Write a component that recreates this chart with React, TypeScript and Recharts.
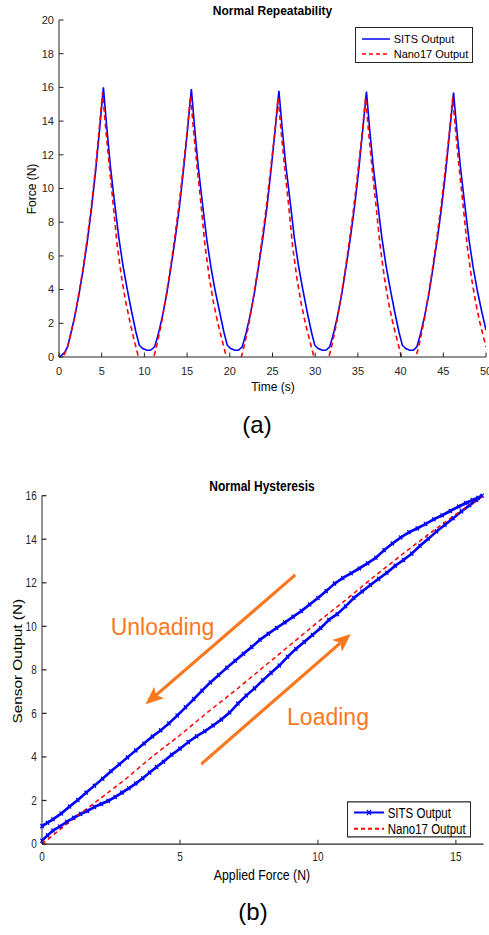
import React from "react";
import { LineChart, Line, XAxis, YAxis, Legend, ReferenceLine } from "recharts";

const FONT = '"Liberation Sans", Arial, Helvetica, sans-serif';
const INK = "#262626";
const BLUE = "#0000FF";
const RED = "#FF0000";
const ORANGE = "#F9781E";
const STRETCH = 1.25; // panel (b) is stretched vertically in the figure

// ---- (a) Normal Repeatability ----
const sitsTime = [
  0, 0.3, 0.7, 1.0, 1.3, 1.8, 2.3, 2.8, 3.3, 3.8, 4.3, 4.75, 5.2,
  5.6, 6.0, 6.5, 7.0, 7.5, 8.0, 8.5, 9.0, 9.4, 9.8, 10.3, 10.7,
  11.2, 11.6, 12.1, 12.6, 13.1, 13.6, 14.1, 14.6, 15.05, 15.5,
  15.9, 16.3, 16.8, 17.3, 17.8, 18.3, 18.8, 19.3, 19.7, 20.1, 20.6, 21.0,
  21.45, 21.85, 22.35, 22.85, 23.35, 23.85, 24.35, 24.85, 25.3, 25.75,
  26.15, 26.55, 27.05, 27.55, 28.05, 28.55, 29.05, 29.55, 29.95, 30.35, 30.85, 31.25,
  31.7, 32.1, 32.6, 33.1, 33.6, 34.1, 34.6, 35.1, 35.55, 36.0,
  36.4, 36.8, 37.3, 37.8, 38.3, 38.8, 39.3, 39.8, 40.2, 40.6, 41.1, 41.5,
  41.9, 42.3, 42.8, 43.3, 43.8, 44.3, 44.8, 45.3, 45.75, 46.2,
  46.6, 47.0, 47.5, 48.0, 48.5, 49.0, 49.5, 50.0,
];
const sitsForce = [
  0, 0.1, 0.3, 0.6, 1.2, 2.3, 3.6, 5.1, 6.8, 8.8, 11.1, 13.5, 16.0,
  13.6, 11.4, 9.2, 7.1, 5.4, 4.0, 2.7, 1.5, 0.7, 0.5, 0.4, 0.4,
  0.6, 1.3, 2.4, 3.7, 5.3, 7.0, 8.9, 11.2, 13.5, 15.9,
  13.5, 11.3, 9.1, 7.0, 5.3, 3.9, 2.7, 1.5, 0.7, 0.5, 0.4, 0.4,
  0.6, 1.3, 2.4, 3.7, 5.3, 7.0, 8.9, 11.2, 13.4, 15.8,
  13.5, 11.4, 9.3, 7.1, 5.4, 4.0, 2.7, 1.5, 0.7, 0.5, 0.4, 0.4,
  0.6, 1.3, 2.4, 3.7, 5.3, 7.0, 8.9, 11.1, 13.4, 15.75,
  13.4, 11.3, 9.2, 7.1, 5.4, 4.0, 2.7, 1.5, 0.7, 0.5, 0.4, 0.4,
  0.6, 1.3, 2.4, 3.7, 5.3, 7.0, 8.9, 11.1, 13.4, 15.7,
  13.4, 11.3, 9.1, 7.0, 5.3, 3.9, 2.7, 1.6,
];
const nanoTime = [
  0, 0.5, 1.0, 1.3, 1.8, 2.3, 2.8, 3.3, 3.8, 4.3, 4.7, 5.1,
  5.5, 5.9, 6.3, 6.8, 7.3, 7.8, 8.3, 8.8, 9.3, 9.8, 10.3, 10.8,
  11.1, 11.5, 12.0, 12.5, 13.0, 13.5, 14.0, 14.5, 15.0, 15.4,
  15.8, 16.2, 16.6, 17.1, 17.6, 18.1, 18.6, 19.1, 19.6, 20.1, 20.6, 21.1,
  21.35, 21.75, 22.25, 22.75, 23.25, 23.75, 24.25, 24.75, 25.25, 25.65,
  26.05, 26.45, 26.85, 27.35, 27.85, 28.35, 28.85, 29.35, 29.85, 30.35, 30.85, 31.35,
  31.6, 32.0, 32.5, 33.0, 33.5, 34.0, 34.5, 35.0, 35.5, 35.9,
  36.3, 36.7, 37.1, 37.6, 38.1, 38.6, 39.1, 39.6, 40.1, 40.6, 41.1, 41.6,
  41.8, 42.2, 42.7, 43.2, 43.7, 44.2, 44.7, 45.2, 45.7, 46.1,
  46.5, 46.9, 47.3, 47.8, 48.3, 48.8, 49.3, 49.8, 50.0,
];
const nanoForce = [
  -0.3, 0.0, 0.6, 1.2, 2.3, 3.7, 5.2, 7.0, 9.0, 11.3, 13.5, 15.7,
  13.4, 11.3, 9.3, 6.7, 4.8, 3.3, 2.1, 1.0, 0.0, -0.7, -0.9, -0.5,
  0.0, 0.8, 2.0, 3.5, 5.1, 6.9, 8.8, 11.0, 13.4, 15.5,
  13.2, 11.1, 9.2, 6.6, 4.7, 3.2, 2.0, 1.0, 0.0, -0.7, -0.9, -0.5,
  0.0, 0.8, 2.0, 3.5, 5.1, 6.9, 8.8, 11.0, 13.3, 15.4,
  13.2, 11.1, 9.2, 6.6, 4.7, 3.2, 2.0, 1.0, 0.0, -0.7, -0.9, -0.5,
  0.0, 0.8, 2.0, 3.5, 5.1, 6.9, 8.8, 11.0, 13.3, 15.4,
  13.1, 11.0, 9.1, 6.6, 4.7, 3.2, 2.0, 1.0, 0.0, -0.7, -0.9, -0.5,
  0.0, 0.8, 2.0, 3.5, 5.1, 6.9, 8.8, 11.0, 13.3, 15.4,
  13.1, 11.0, 9.1, 6.6, 4.7, 3.2, 2.0, 1.0, 0.6,
];
const timeTicks = [0, 5, 10, 15, 20, 25, 30, 35, 40, 45, 50];
const forceTicks = [0, 2, 4, 6, 8, 10, 12, 14, 16, 18, 20];

// ---- (b) Normal Hysteresis ----
const loadApplied = [
  0, 0.2, 0.4, 0.65, 0.9, 1.15, 1.4, 1.65, 1.9, 2.15, 2.4, 2.65, 2.9, 3.15, 3.4,
  3.65, 3.9, 4.15, 4.4, 4.7, 5.0, 5.3, 5.6, 5.9, 6.2, 6.5, 6.8, 7.1, 7.4, 7.7,
  8.0, 8.3, 8.6, 8.9, 9.2, 9.5, 9.8, 10.1, 10.4, 10.7, 11.0, 11.3, 11.6, 11.9,
  12.2, 12.5, 12.8, 13.1, 13.4, 13.7, 14.0, 14.3, 14.6, 14.9, 15.2, 15.5, 15.75, 15.95,
];
const loadOutput = [
  0.15, 0.4, 0.62, 0.8, 1.02, 1.2, 1.38, 1.52, 1.7, 1.84, 1.98, 2.16, 2.36, 2.56, 2.78,
  3.02, 3.28, 3.54, 3.78, 4.1, 4.38, 4.68, 4.95, 5.18, 5.44, 5.72, 6.04, 6.45, 6.82, 7.15,
  7.52, 7.86, 8.2, 8.6, 8.96, 9.28, 9.6, 9.92, 10.3, 10.56, 10.92, 11.3, 11.6, 11.9,
  12.18, 12.46, 12.78, 13.05, 13.34, 13.7, 14.02, 14.36, 14.66, 14.96, 15.28, 15.56, 15.8, 16.0,
];
const unloadApplied = [
  15.8, 15.6, 15.35, 15.1, 14.8, 14.5, 14.2, 13.9, 13.6, 13.3, 13.0, 12.7, 12.4, 12.1,
  11.8, 11.5, 11.2, 10.9, 10.6, 10.3, 10.0, 9.7, 9.4, 9.1, 8.8, 8.5, 8.2, 7.9, 7.6,
  7.3, 7.0, 6.7, 6.4, 6.1, 5.8, 5.5, 5.2, 4.9, 4.6, 4.3, 4.0, 3.7, 3.4, 3.1, 2.8,
  2.5, 2.2, 1.9, 1.6, 1.3, 1.0, 0.7, 0.4, 0.2, 0,
];
const unloadOutput = [
  15.9, 15.8, 15.66, 15.5, 15.3, 15.1, 14.92, 14.7, 14.5, 14.32, 14.08, 13.8, 13.5, 13.15,
  12.9, 12.66, 12.44, 12.22, 11.96, 11.62, 11.3, 11.0, 10.7, 10.44, 10.18, 9.92, 9.66, 9.38, 9.05,
  8.74, 8.42, 8.1, 7.76, 7.42, 7.04, 6.66, 6.28, 5.9, 5.54, 5.22, 4.94, 4.62, 4.3, 3.98, 3.66,
  3.34, 3.0, 2.68, 2.36, 2.02, 1.72, 1.4, 1.14, 0.98, 0.82,
];
const nanoApplied = [0, 1, 2, 3, 4, 5, 6, 7, 8, 9, 10, 11, 12, 13, 14, 15, 15.95];
const nanoOutput = [0, 1.02, 1.98, 2.95, 4.02, 5.0, 6.05, 7.05, 8.1, 9.15, 10.2, 11.2, 12.25, 13.25, 14.22, 15.15, 15.95];
const appliedTicks = [0, 5, 10, 15];
const outputTicks = [0, 2, 4, 6, 8, 10, 12, 14, 16];

// annotation arrows, in data units: [start, tip]
const unloadingArrow = [{ x: 9.18, y: 12.36 }, { x: 3.75, y: 6.42 }];
const loadingArrow = [{ x: 5.77, y: 3.67 }, { x: 11.19, y: 9.65 }];

const sitsRows = sitsTime.map((t, i) => ({ t, f: sitsForce[i] }));
const nanoRows = nanoTime.map((t, i) => ({ t, f: nanoForce[i] }));
const loopRows = [
  ...loadApplied.map((x, i) => ({ x, y: loadOutput[i] })),
  ...unloadApplied.map((x, i) => ({ x, y: unloadOutput[i] })),
];
const refRows = nanoApplied.map((x, i) => ({ x, y: nanoOutput[i] }));

type Side = "bottom" | "left" | "top" | "right";

// MATLAB style ticks: pointing into the plot box
const makeTick = (side: Side, len: number, fontSize = 0, gap = 0) => (p: any) => {
  const { x, y, payload, index } = p;
  let line;
  if (side === "bottom") line = <line x1={x} x2={x} y1={y} y2={y - len} />;
  else if (side === "top") line = <line x1={x} x2={x} y1={y} y2={y + len} />;
  else if (side === "left") line = <line x1={x} x2={x + len} y1={y} y2={y} />;
  else line = <line x1={x} x2={x - len} y1={y} y2={y} />;
  return (
    <g key={index} stroke={INK} strokeWidth={1}>
      {line}
      {fontSize > 0 && side === "bottom" && (
        <text x={x} y={y + gap} dy="0.35em" textAnchor="middle" fontSize={fontSize} fill={INK} stroke="none" fontFamily={FONT}>
          {payload.value}
        </text>
      )}
      {fontSize > 0 && side === "left" && (
        <text x={x - gap} y={y} dy="0.35em" textAnchor="end" fontSize={fontSize} fill={INK} stroke="none" fontFamily={FONT}>
          {payload.value}
        </text>
      )}
    </g>
  );
};

const XMark = (p: any) => {
  const { cx, cy } = p;
  if (cx == null || cy == null) return <g key={p.index} />;
  const s = 1.6;
  return (
    <path
      key={p.index}
      d={`M${cx - s},${cy - s}L${cx + s},${cy + s}M${cx + s},${cy - s}L${cx - s},${cy + s}`}
      stroke={BLUE}
      strokeWidth={1.2}
      fill="none"
    />
  );
};

// arrow drawn in unstretched space so the head keeps its shape
const arrowShape = (p: any) => {
  const { x1, y1, x2, y2 } = p;
  const k = STRETCH;
  const dx = x2 - x1;
  const dy = (y2 - y1) * k;
  const len = Math.hypot(dx, dy);
  const ux = dx / len;
  const uy = dy / len;
  const head = 18;
  const half = 7.5;
  const tx = x2;
  const ty = y2 * k;
  const bx = tx - ux * head;
  const by = ty - uy * head;
  const nx = bx + ux * 4;
  const ny = by + uy * 4;
  const pts = [
    [tx, ty],
    [bx - uy * half, by + ux * half],
    [nx, ny],
    [bx + uy * half, by - ux * half],
  ]
    .map(([a, b]) => `${a},${b / k}`)
    .join(" ");
  return (
    <g>
      <line x1={x1} y1={y1} x2={nx} y2={ny / k} stroke={ORANGE} strokeWidth={2.7} />
      <polygon points={pts} fill={ORANGE} />
    </g>
  );
};

function LegendBox(props: {
  width: number;
  height: number;
  rows: number[];
  sampleX: number;
  sampleW: number;
  textX: number;
  fontSize: number;
  marker: boolean;
}) {
  const { width, height, rows, sampleX, sampleW, textX, fontSize, marker } = props;
  const items = [
    { name: "SITS Output", color: BLUE, dash: undefined as string | undefined },
    { name: "Nano17 Output", color: RED, dash: "4 3" },
  ];
  return (
    <div
      style={{
        position: "relative",
        width,
        height,
        boxSizing: "border-box",
        border: `1px solid ${INK}`,
        background: "#fff",
        fontFamily: FONT,
        fontSize,
        color: "#000",
      }}
    >
      {items.map((it, i) => (
        <div key={it.name} style={{ position: "absolute", left: 0, top: rows[i] - 7, height: 14, width: "100%" }}>
          <svg width={sampleW} height={14} style={{ position: "absolute", left: sampleX, top: 0 }}>
            <line x1={0} x2={sampleW} y1={7} y2={7} stroke={it.color} strokeWidth={1.5} strokeDasharray={it.dash} />
            {marker && i === 0 && (
              <path d={`M${sampleW / 2 - 2},5L${sampleW / 2 + 2},9M${sampleW / 2 + 2},5L${sampleW / 2 - 2},9`} stroke={BLUE} strokeWidth={1.1} />
            )}
          </svg>
          <span style={{ position: "absolute", left: textX, top: 0, lineHeight: "14px", whiteSpace: "nowrap" }}>{it.name}</span>
        </div>
      ))}
    </div>
  );
}

const abs = (left: number, top: number, extra: React.CSSProperties = {}): React.CSSProperties => ({
  position: "absolute",
  left,
  top,
  transform: "translate(-50%, -50%)",
  whiteSpace: "nowrap",
  lineHeight: 1,
  color: "#000",
  ...extra,
});

export default function App() {
  return (
    <div style={{ position: "absolute", left: 0, top: 0, width: 489, height: 935, background: "#fff", fontFamily: FONT, overflow: "hidden" }}>
      {/* (a) */}
      <div style={{ position: "absolute", left: 0, top: 0 }}>
        <LineChart width={489} height={400} margin={{ top: 20, right: 3, bottom: 0, left: 0 }}>
          <XAxis
            dataKey="t"
            type="number"
            domain={[0, 50]}
            ticks={timeTicks}
            interval={0}
            height={43}
            tickSize={0}
            tickMargin={0}
            tickLine={false}
            axisLine={{ stroke: INK, strokeWidth: 1 }}
            tick={makeTick("bottom", 4.5, 11, 13.7)}
            allowDataOverflow
          />
          <XAxis
            xAxisId="top"
            orientation="top"
            type="number"
            domain={[0, 50]}
            ticks={timeTicks}
            interval={0}
            height={0}
            tickSize={0}
            tickMargin={0}
            tickLine={false}
            axisLine={{ stroke: INK, strokeWidth: 1 }}
            tick={makeTick("top", 4.5)}
          />
          <YAxis
            type="number"
            domain={[0, 20]}
            ticks={forceTicks}
            interval={0}
            width={59}
            tickSize={0}
            tickMargin={0}
            tickLine={false}
            axisLine={{ stroke: INK, strokeWidth: 1 }}
            tick={makeTick("left", 4.5, 11, 5)}
            allowDataOverflow
          />
          <YAxis
            yAxisId="right"
            orientation="right"
            type="number"
            domain={[0, 20]}
            ticks={forceTicks}
            interval={0}
            width={0}
            tickSize={0}
            tickMargin={0}
            tickLine={false}
            axisLine={{ stroke: INK, strokeWidth: 1 }}
            tick={makeTick("right", 4.5)}
          />
          <Line data={sitsRows} dataKey="f" stroke={BLUE} strokeWidth={1.6} dot={false} activeDot={false} isAnimationActive={false} />
          <Line
            data={nanoRows}
            dataKey="f"
            stroke={RED}
            strokeWidth={1.6}
            strokeDasharray="5 3.5"
            dot={false}
            activeDot={false}
            isAnimationActive={false}
          />
          <Legend
            verticalAlign="middle"
            align="center"
            wrapperStyle={{ left: 355, top: 26.7, width: 118, height: 36 }}
            content={() => (
              <LegendBox width={118} height={36} rows={[11, 26.3]} sampleX={5.7} sampleW={28.6} textX={37.7} fontSize={11} marker={false} />
            )}
          />
        </LineChart>
      </div>
      <div style={abs(272.5, 10.7, { fontSize: 12, fontWeight: "bold" })}>Normal Repeatability</div>
      <div style={abs(32, 188.5, { fontSize: 12, transform: "translate(-50%, -50%) rotate(-90deg)" })}>Force (N)</div>
      <div style={abs(273, 386.7, { fontSize: 12 })}>Time (s)</div>
      <div style={abs(257, 425, { fontSize: 24 })}>(a)</div>

      {/* (b), stretched vertically like the figure */}
      <div style={{ position: "absolute", left: 0, top: 470, width: 489, height: 340, transform: `scaleY(${STRETCH})`, transformOrigin: "0 0" }}>
        <LineChart width={489} height={340} margin={{ top: 20.56, right: 5.5, bottom: 0, left: 0 }}>
          <XAxis
            dataKey="x"
            type="number"
            domain={[0, 16]}
            ticks={appliedTicks}
            interval={0}
            height={40.8}
            tickSize={0}
            tickMargin={0}
            tickLine={false}
            axisLine={{ stroke: INK, strokeWidth: 1 }}
            tick={makeTick("bottom", 3.5, 10, 10.2)}
          />
          <XAxis
            xAxisId="top"
            orientation="top"
            type="number"
            domain={[0, 16]}
            ticks={appliedTicks}
            interval={0}
            height={0}
            tickSize={0}
            tickMargin={0}
            tickLine={false}
            axisLine={{ stroke: INK, strokeWidth: 1 }}
            tick={makeTick("top", 3.5)}
          />
          <YAxis
            type="number"
            domain={[0, 16]}
            ticks={outputTicks}
            interval={0}
            width={42}
            tickSize={0}
            tickMargin={0}
            tickLine={false}
            axisLine={{ stroke: INK, strokeWidth: 1 }}
            tick={makeTick("left", 4.5, 10, 5.3)}
          />
          <YAxis
            yAxisId="right"
            orientation="right"
            type="number"
            domain={[0, 16]}
            ticks={outputTicks}
            interval={0}
            width={0}
            tickSize={0}
            tickMargin={0}
            tickLine={false}
            axisLine={{ stroke: INK, strokeWidth: 1 }}
            tick={makeTick("right", 4.5)}
          />
          <ReferenceLine segment={unloadingArrow} shape={arrowShape} />
          <ReferenceLine segment={loadingArrow} shape={arrowShape} />
          <Line data={loopRows} dataKey="y" stroke={BLUE} strokeWidth={2.3} dot={XMark} activeDot={false} isAnimationActive={false} />
          <Line
            data={refRows}
            dataKey="y"
            stroke={RED}
            strokeWidth={1.3}
            strokeDasharray="4 3"
            dot={false}
            activeDot={false}
            isAnimationActive={false}
          />
          <Legend
            verticalAlign="middle"
            align="center"
            wrapperStyle={{ left: 347.3, top: 264.6, width: 124, height: 29 }}
            content={() => (
              <LegendBox width={124} height={29} rows={[8.8, 21.2]} sampleX={5.7} sampleW={30} textX={39.4} fontSize={11.5} marker />
            )}
          />
        </LineChart>
        <div style={abs(262, 12.8, { fontSize: 12, fontWeight: "bold" })}>Normal Hysteresis</div>
        <div style={abs(18, 153.2, { fontSize: 12.3, transform: "translate(-50%, -50%) rotate(-90deg)" })}>Sensor Output (N)</div>
        <div style={abs(262, 324, { fontSize: 12.3 })}>Applied Force (N)</div>
      </div>
      <div style={abs(162.5, 627, { fontSize: 23, color: ORANGE })}>Unloading</div>
      <div style={abs(328, 717, { fontSize: 23, color: ORANGE })}>Loading</div>
      <div style={abs(253, 912, { fontSize: 24 })}>(b)</div>
    </div>
  );
}
